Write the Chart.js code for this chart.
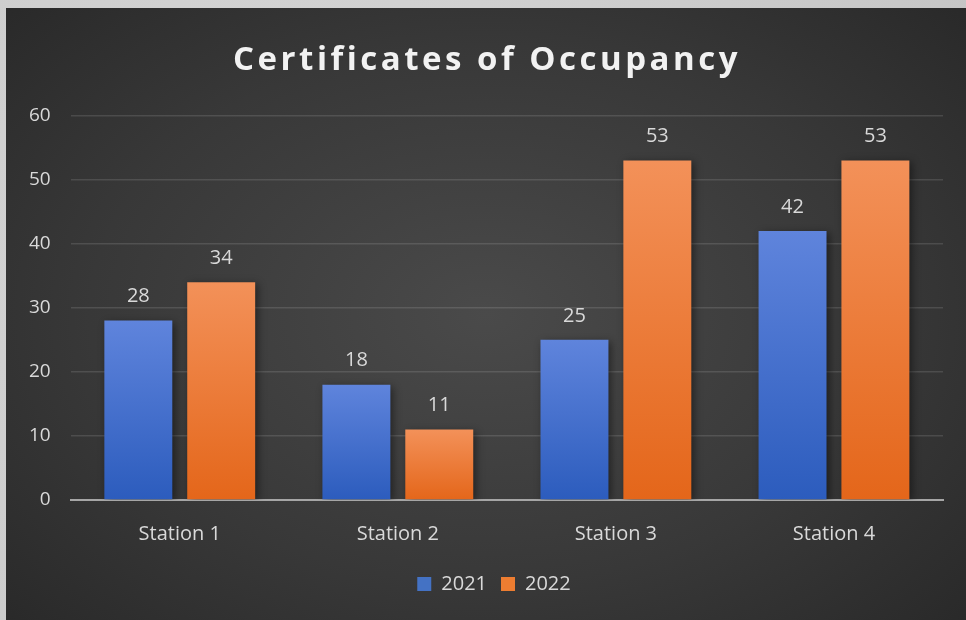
<!DOCTYPE html>
<html>
<head>
<meta charset="utf-8">
<script src="https://cdn.jsdelivr.net/npm/chart.js@4.4.0/dist/chart.umd.min.js"></script>
<style>
  html, body { margin: 0; padding: 0; }
  body { width: 966px; height: 620px; background: #cfcfcf; position: relative; overflow: hidden;
         background-image: radial-gradient(circle at 30% 40%, #d8d8d8, #c4c4c4); }
  #panel { position: absolute; left: 6px; top: 8px; width: 960px; height: 612px;
           background: radial-gradient(ellipse 75% 80% at 50% 50%, #4a4a4a 0%, #383838 55%, #262626 100%); }
  #c { display: block; }
</style>
</head>
<body>
<div id="panel"><canvas id="c" width="960" height="612"></canvas></div>
<script>
const categories = ["Station 1", "Station 2", "Station 3", "Station 4"];
const seriesNames = ["2021", "2022"];
const values2021 = [28, 18, 25, 42];
const values2022 = [34, 11, 53, 53];
const yTicks = [0, 10, 20, 30, 40, 50, 60];
const titleText = "Certificates of Occupancy";

const palette = {
  "2021": { top: "#5f84dc", bottom: "#2c5cbd", legend: "#4472c4" },
  "2022": { top: "#f39159", bottom: "#e4661a", legend: "#ed7d31" }
};

const TITLE_PAD = { top: 33, bottom: 35 };
const TITLE_FONT = { family: "'Open Sans', sans-serif", size: 33, weight: "bold" };
const FONT = "'Open Sans', sans-serif";

function barGradient(name) {
  return function (ctx) {
    const chart = ctx.chart;
    const area = chart.chartArea;
    if (!area || ctx.type !== "data") return palette[name].legend;
    const y = chart.scales.y;
    const top = y.getPixelForValue(ctx.raw);
    const base = y.getPixelForValue(0);
    const g = chart.ctx.createLinearGradient(0, top, 0, base);
    g.addColorStop(0, palette[name].top);
    g.addColorStop(1, palette[name].bottom);
    return g;
  };
}

const valueLabels = {
  id: "valueLabels",
  afterDatasetsDraw(chart) {
    const ctx = chart.ctx;
    ctx.save();
    ctx.font = "20px " + FONT;
    ctx.fillStyle = "#d9d9d9";
    ctx.textAlign = "center";
    ctx.textBaseline = "middle";
    chart.data.datasets.forEach((ds, i) => {
      const meta = chart.getDatasetMeta(i);
      meta.data.forEach((bar, j) => {
        ctx.fillText(String(ds.data[j]), bar.x, bar.y - 24);
      });
    });
    ctx.restore();
  }
};

const spacedTitle = {
  id: "spacedTitle",
  afterDraw(chart) {
    const tb = chart.titleBlock;
    if (!tb) return;
    const ctx = chart.ctx;
    ctx.save();
    ctx.font = "bold 33px " + FONT;
    ctx.fillStyle = "#f2f2f2";
    ctx.textAlign = "center";
    ctx.textBaseline = "middle";
    try { ctx.letterSpacing = "3.5px"; } catch (e) {}
    const cy = (tb.top + TITLE_PAD.top + tb.bottom - TITLE_PAD.bottom) / 2;
    ctx.fillText(titleText, chart.width / 2 + 1, cy);
    ctx.restore();
  }
};

const legendShift = {
  id: "legendShift",
  afterLayout(chart) {
    if (chart.legend) {
      chart.legend.left += 18;
      chart.legend.right += 18;
    }
  }
};

const shadow = {
  id: "barShadow",
  beforeDatasetsDraw(chart) {
    chart.ctx.save();
    chart.ctx.shadowColor = "rgba(0,0,0,0.45)";
    chart.ctx.shadowBlur = 8;
    chart.ctx.shadowOffsetX = 3;
    chart.ctx.shadowOffsetY = 2;
  },
  afterDatasetsDraw(chart) {
    chart.ctx.restore();
  }
};

new Chart(document.getElementById("c"), {
  type: "bar",
  data: {
    labels: categories,
    datasets: [
      { label: seriesNames[0], data: values2021, backgroundColor: barGradient("2021") },
      { label: seriesNames[1], data: values2022, backgroundColor: barGradient("2022") }
    ]
  },
  options: {
    responsive: false,
    animation: false,
    devicePixelRatio: 1,
    categoryPercentage: 0.76,
    barPercentage: 0.82,
    layout: { padding: { left: 3, right: 23, top: 0, bottom: 16 } },
    plugins: {
      title: {
        display: true,
        text: titleText,
        color: "rgba(0,0,0,0)",
        font: TITLE_FONT,
        padding: TITLE_PAD
      },
      legend: {
        position: "bottom",
        labels: {
          color: "#d9d9d9",
          font: { family: FONT, size: 20 },
          boxWidth: 14, boxHeight: 14, padding: 14,
          generateLabels(chart) {
            return chart.data.datasets.map((ds, i) => ({
              text: ds.label,
              fillStyle: palette[ds.label].legend,
              strokeStyle: palette[ds.label].legend,
              lineWidth: 0,
              fontColor: "#d9d9d9",
              datasetIndex: i
            }));
          }
        }
      },
      tooltip: { enabled: false }
    },
    scales: {
      x: {
        grid: { display: false },
        border: { display: true, color: "#a6a6a6", width: 2 },
        ticks: { color: "#d9d9d9", font: { family: FONT, size: 20 }, padding: 14 }
      },
      y: {
        min: 0, max: 60,
        afterBuildTicks(axis) { axis.ticks = yTicks.map(v => ({ value: v })); },
        grid: { color: "rgba(255,255,255,0.12)", lineWidth: 1.5, drawTicks: false },
        border: { display: false },
        ticks: { color: "#d9d9d9", font: { family: FONT, size: 19 }, padding: 20 }
      }
    }
  },
  plugins: [shadow, valueLabels, spacedTitle, legendShift]
});
</script>
</body>
</html>
